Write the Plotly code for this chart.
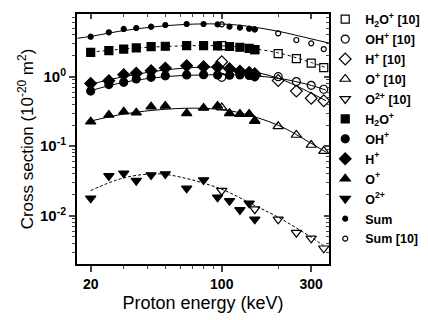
import plotly.graph_objects as go

# ---------------- data ----------------
energy_meas = [20, 25, 30, 35, 42, 50, 65, 80, 95, 110, 125, 140, 150]
energy_ref = [100, 150, 200, 250, 300, 350]

h2o_meas = [2.24, 2.37, 2.5, 2.59, 2.7, 2.74, 2.8, 2.8, 2.78, 2.72, 2.65, 2.55, 2.45]
oh_meas = [0.62, 0.77, 0.83, 0.93, 0.98, 1.03, 1.06, 1.07, 1.06, 1.05, 1.06, 1.04, 1.03]
h_meas = [0.80, 0.875, 1.07, 1.12, 1.22, 1.33, 1.44, 1.39, 1.38, 1.3, 1.2, 1.15, 1.1]
o_meas = [0.225, 0.281, 0.313, 0.303, 0.37, 0.379, 0.297, 0.355, 0.379, 0.297, 0.29, 0.29, 0.233]
o2_meas = [0.0178, 0.0373, 0.0407, 0.0319, 0.0385, 0.0398, 0.0248, 0.0326, 0.0184, 0.0164, 0.0121, 0.0151, 0.00887]
sum_meas = [3.76, 4.35, 4.86, 5.02, 5.24, 5.54, 5.73, 5.73, 5.65, 5.25, 5.08, 4.9, 4.8]

h2o_ref = [2.79, 2.45, 2.15, 1.82, 1.57, 1.35]
oh_ref = [0.98, 1.0, 1.0, 0.85, 0.75, 0.66]
h_ref = [1.64, 1.05, 0.88, 0.62, 0.49, 0.45]
o_ref = [0.36, 0.23, 0.193, 0.145, 0.104, 0.085]
o2_ref = [0.0229, 0.0124, 0.00887, 0.00569, 0.00473, 0.0034]
sum_ref = [5.67, 4.8, 4.21, 3.37, 3.02, 2.5]

# fitted curves
energy_fit_sum = [17, 20, 30, 50, 80, 120, 200, 300, 373]
sum_fit = [3.57, 3.8, 4.6, 5.4, 5.75, 5.55, 4.5, 3.5, 3.05]
energy_fit = [20, 30, 50, 80, 120, 200, 300, 360]
h2o_fit = [2.25, 2.5, 2.72, 2.8, 2.7, 2.2, 1.6, 1.35]
h_fit = [0.78, 1.0, 1.25, 1.37, 1.3, 0.95, 0.58, 0.45]
oh_fit = [0.63, 0.83, 1.0, 1.06, 1.06, 0.95, 0.75, 0.64]
o_fit = [0.23, 0.29, 0.34, 0.35, 0.31, 0.2, 0.11, 0.082]
energy_fit_o2 = [20, 30, 45, 60, 100, 150, 200, 300, 350]
o2_fit = [0.023, 0.035, 0.04, 0.036, 0.024, 0.014, 0.0095, 0.0049, 0.0037]

x_ticks = [20, 100, 300]
x_ticktext = ["20", "100", "300"]
y_ticks = [0.01, 0.1, 1]
y_ticktext = ["10<sup>-2</sup>", "10<sup>-1</sup>", "10<sup>0</sup>"]
x_minor = [30, 40, 50, 60, 70, 80, 90, 200]
y_minor = [m * d for d in (0.001, 0.01, 0.1, 1) for m in range(2, 10)]

# ---------------- figure ----------------
fig = go.Figure()

fits = [
    (energy_fit_sum, sum_fit, "solid"),
    (energy_fit, h2o_fit, "dot"),
    (energy_fit, h_fit, "solid"),
    (energy_fit, oh_fit, "solid"),
    (energy_fit, o_fit, "solid"),
    (energy_fit_o2, o2_fit, "3px,2px"),
]
for ex, vy, dash in fits:
    fig.add_trace(go.Scatter(x=ex, y=vy, mode="lines", line_shape="spline",
                             line=dict(color="black", width=1, dash=dash),
                             showlegend=False, hoverinfo="skip"))

series = [
    ("H<sub>2</sub>O<sup>+</sup> [10]", energy_ref, h2o_ref, "square-open", 8),
    ("OH<sup>+</sup> [10]", energy_ref, oh_ref, "circle-open", 8),
    ("H<sup>+</sup> [10]", energy_ref, h_ref, "diamond-open", 9),
    ("O<sup>+</sup> [10]", energy_ref, o_ref, "triangle-up-open", 9),
    ("O<sup>2+</sup> [10]", energy_ref, o2_ref, "triangle-down-open", 9),
    ("H<sub>2</sub>O<sup>+</sup>", energy_meas, h2o_meas, "square", 8),
    ("OH<sup>+</sup>", energy_meas, oh_meas, "circle", 8),
    ("H<sup>+</sup>", energy_meas, h_meas, "diamond", 9),
    ("O<sup>+</sup>", energy_meas, o_meas, "triangle-up", 9),
    ("O<sup>2+</sup>", energy_meas, o2_meas, "triangle-down", 9),
    ("Sum", energy_meas, sum_meas, "circle", 5),
    ("Sum [10]", energy_ref, sum_ref, "circle-open", 5),
]
for i, (name, ex, vy, sym, sz) in enumerate(series):
    fig.add_trace(go.Scatter(
        x=ex, y=vy, mode="markers", name=name, legendgroup=f"g{i}",
        marker=dict(symbol=sym, size=sz, color="black",
                    line=dict(color="black", width=1.2)),
    ))

# invisible trace for the mirrored top/right axes
fig.add_trace(go.Scatter(x=[], y=[], xaxis="x2", yaxis="y2", showlegend=False))

font_family = "Liberation Sans, Arial, sans-serif"
xr = [1.228, 2.572]
yr = [-2.695, 0.902]

fig.update_layout(
    width=428, height=320,
    margin=dict(l=77, r=99, t=14, b=56, autoexpand=False),
    paper_bgcolor="white", plot_bgcolor="white",
    font=dict(family=font_family, color="black", size=13),
    xaxis=dict(type="log", range=xr, tickvals=x_ticks, ticktext=x_ticktext,
               ticks="outside", ticklen=6, tickwidth=1.5, showgrid=False, zeroline=False,
               showline=True, linewidth=2, linecolor="black",
               tickfont=dict(size=14, weight="bold"),
               minor=dict(tickvals=x_minor, ticks="outside", ticklen=3, tickwidth=1.2, showgrid=False),
               title=dict(text="Proton energy (keV)", font=dict(size=18), standoff=6)),
    yaxis=dict(type="log", range=yr, tickvals=y_ticks, ticktext=y_ticktext,
               ticks="outside", ticklen=6, tickwidth=1.5, showgrid=False, zeroline=False,
               showline=True, linewidth=2, linecolor="black",
               tickfont=dict(size=15, weight="bold"),
               minor=dict(tickvals=y_minor, ticks="outside", ticklen=3, tickwidth=1.2, showgrid=False),
               title=dict(text="Cross section (10<sup>-20</sup> m<sup>2</sup>)", font=dict(size=17), standoff=2)),
    xaxis2=dict(type="log", range=xr, overlaying="x", side="top", anchor="y2",
                tickvals=x_ticks, showticklabels=False, ticks="inside", ticklen=5, tickwidth=1.5,
                minor=dict(tickvals=x_minor, ticks="inside", ticklen=3, tickwidth=1.2),
                showgrid=False, zeroline=False, showline=True, linewidth=2, linecolor="black"),
    yaxis2=dict(type="log", range=yr, overlaying="y", side="right", anchor="x2",
                tickvals=y_ticks, showticklabels=False, ticks="inside", ticklen=5, tickwidth=1.5,
                minor=dict(tickvals=y_minor, ticks="inside", ticklen=3, tickwidth=1.2),
                showgrid=False, zeroline=False, showline=True, linewidth=2, linecolor="black"),
    legend=dict(x=0.985, y=1.038, xanchor="left", yanchor="top",
                font=dict(size=12.5, weight="bold"), tracegroupgap=0.7,
                itemwidth=30, bgcolor="rgba(0,0,0,0)", maxheight=1.0),
    showlegend=True,
)

fig.write_html("out.html", config={"displayModeBar": False},
               post_script="document.body.style.margin='0';")
